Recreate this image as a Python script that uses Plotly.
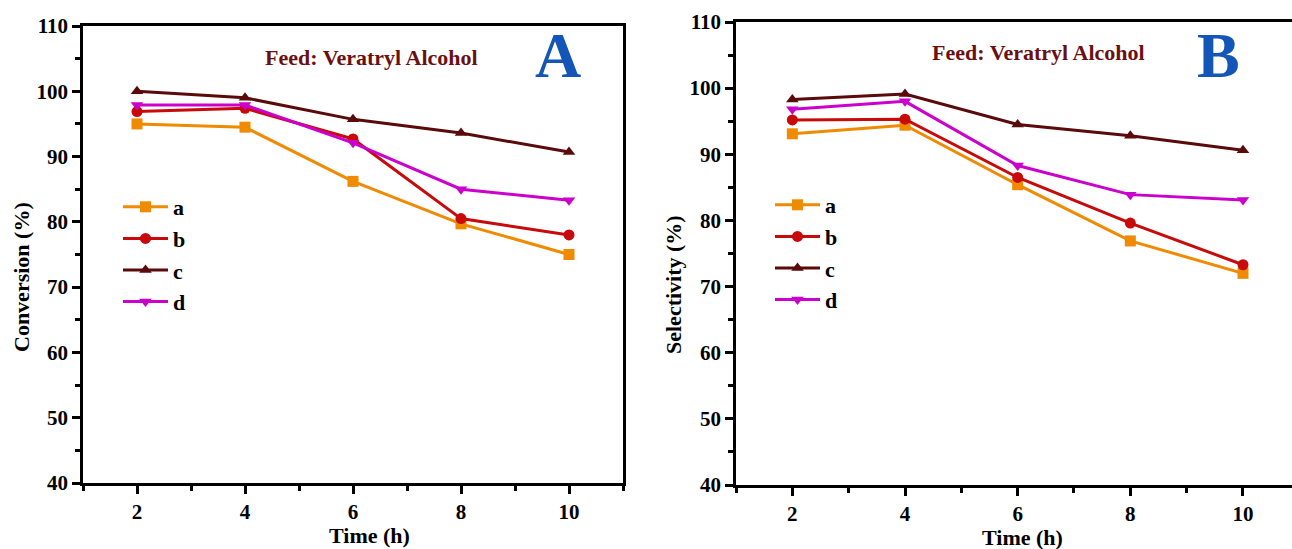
import plotly.graph_objects as go

# ---------------- data ----------------
time_h = [2, 4, 6, 8, 10]
series_names = ["a", "b", "c", "d"]

conv_a = [95.0, 94.5, 86.2, 79.7, 75.0]
conv_b = [96.9, 97.4, 92.7, 80.5, 78.0]
conv_c = [100.0, 99.0, 95.7, 93.6, 90.7]
conv_d = [97.9, 97.9, 92.1, 85.0, 83.3]

sel_a = [93.1, 94.4, 85.4, 76.9, 72.0]
sel_b = [95.2, 95.3, 86.5, 79.6, 73.3]
sel_c = [98.3, 99.1, 94.5, 92.8, 90.6]
sel_d = [96.8, 98.0, 88.3, 83.9, 83.1]

y_ticks = [40, 50, 60, 70, 80, 90, 100, 110]
x_ticks = [2, 4, 6, 8, 10]

colors = ["#F08A00", "#C80A0A", "#5A0A0A", "#CC00CC"]
symbols = ["square", "circle", "triangle-up", "triangle-down"]

W, H = 1292, 549
FONT = "Liberation Serif, Times New Roman, serif"


def px(x):
    return x / W


def py(y):
    return 1 - y / H


fig = go.Figure()

conv = [conv_a, conv_b, conv_c, conv_d]
sel = [sel_a, sel_b, sel_c, sel_d]

for i, name in enumerate(series_names):
    fig.add_trace(go.Scatter(
        x=time_h, y=conv[i], name=name, mode="lines+markers",
        line=dict(color=colors[i], width=3),
        marker=dict(symbol=symbols[i], size=11, color=colors[i]),
        xaxis="x", yaxis="y", legend="legend", legendgroup="A" + name,
    ))
for i, name in enumerate(series_names):
    fig.add_trace(go.Scatter(
        x=time_h, y=sel[i], name=name, mode="lines+markers",
        line=dict(color=colors[i], width=3),
        marker=dict(symbol=symbols[i], size=11, color=colors[i]),
        xaxis="x2", yaxis="y2", legend="legend2", legendgroup="B" + name,
    ))

tickfont = dict(family=FONT, size=21, color="black", weight="bold")
common_x = dict(
    range=[1, 11], tickvals=x_ticks, ticks="outside", ticklen=8, tickwidth=2.5,
    tickcolor="black", showline=True, linewidth=2.5, linecolor="black",
    showgrid=False, zeroline=False, tickfont=tickfont, automargin=False,
    minor=dict(ticks="outside", ticklen=5, tickwidth=2.5, tickcolor="black", dtick=1, tick0=1),
)
common_y = dict(
    range=[40, 110], tickvals=y_ticks, ticks="outside", ticklen=8, tickwidth=2.5,
    tickcolor="black", showline=True, linewidth=2.5, linecolor="black",
    showgrid=False, zeroline=False, tickfont=tickfont, automargin=False,
    minor=dict(ticks="outside", ticklen=5, tickwidth=2.5, tickcolor="black", dtick=5, tick0=40),
)

legend_font = dict(family=FONT, size=22, color="black", weight="bold")

fig.update_layout(
    width=W, height=H,
    margin=dict(l=0, r=0, t=0, b=0, autoexpand=False),
    paper_bgcolor="white", plot_bgcolor="white",
    xaxis=dict(common_x, domain=[px(83), px(623)], anchor="y", mirror=True),
    yaxis=dict(common_y, domain=[py(483), py(26)], anchor="x", mirror=True),
    xaxis2=dict(common_x, domain=[px(736), 1.0], range=[1, 10.87], anchor="y2", mirror=True),
    yaxis2=dict(common_y, domain=[py(485), py(22)], anchor="x2", mirror=False),
    legend=dict(x=px(118), y=py(186), xanchor="left", yanchor="top", itemwidth=45,
                font=legend_font, bgcolor="rgba(0,0,0,0)", tracegroupgap=0),
    legend2=dict(x=px(770), y=py(184), xanchor="left", yanchor="top", itemwidth=45,
                 font=legend_font, bgcolor="rgba(0,0,0,0)", tracegroupgap=0),
    showlegend=True,
)

title_font = dict(family=FONT, size=22, color="black", weight="bold")
feed_font = dict(family=FONT, size=22, color="#6B1010", weight="bold")
big_font = dict(family=FONT, size=64, color="#1356B8", weight="bold")

annotations = [
    dict(text="Feed: Veratryl Alcohol", x=px(371), y=py(57), font=feed_font),
    dict(text="Feed: Veratryl Alcohol", x=px(1038), y=py(53), font=feed_font),
    dict(text="A", x=px(558), y=py(55), font=big_font),
    dict(text="B", x=px(1218), y=py(55), font=big_font),
    dict(text="Time (h)", x=px(369), y=py(535), font=title_font),
    dict(text="Time (h)", x=px(1022), y=py(537), font=title_font),
    dict(text="Conversion (%)", x=px(21), y=py(277), font=title_font, textangle=-90),
    dict(text="Selectivity (%)", x=px(673), y=py(285), font=title_font, textangle=-90),
]
for a in annotations:
    fig.add_annotation(xref="paper", yref="paper", showarrow=False,
                       xanchor="center", yanchor="middle", **a)

fig.write_html("out.html")
